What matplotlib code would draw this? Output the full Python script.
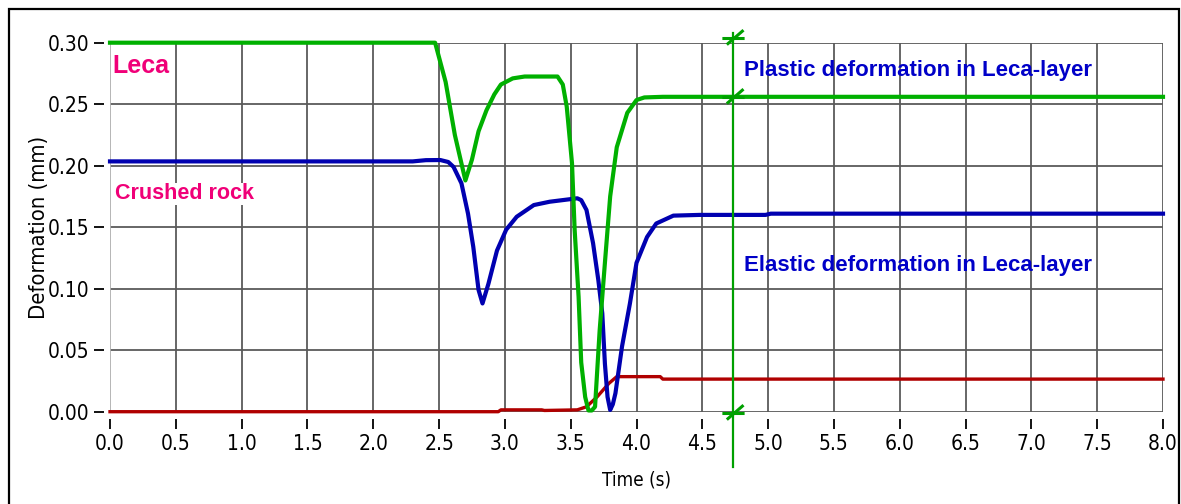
import numpy as np
import matplotlib
matplotlib.use("Agg")
import matplotlib.pyplot as plt
from matplotlib import font_manager
from matplotlib.path import Path
from matplotlib.patches import Rectangle

plt.rcParams['font.family'] = ['Liberation Sans', 'DejaVu Sans']

# green: plastic (Leca) curve
t_green = [0.0, 2.47, 2.55, 2.62, 2.70, 2.75, 2.80, 2.86, 2.92, 2.97, 3.06, 3.15, 3.40, 3.44,
           3.47, 3.51, 3.53, 3.56, 3.58, 3.61, 3.635, 3.66, 3.685, 3.72, 3.76, 3.80, 3.85,
           3.93, 4.00, 4.06, 4.20, 8.0]
v_green = [0.300, 0.300, 0.268, 0.225, 0.188, 0.205, 0.228, 0.245, 0.258, 0.266, 0.271, 0.2725,
           0.2725, 0.266, 0.248, 0.202, 0.148, 0.0935, 0.040, 0.012, 0.001, 0.001, 0.004,
           0.066, 0.121, 0.175, 0.215, 0.243, 0.2534, 0.2555, 0.256, 0.256]

# blue: elastic curve
t_blue = [0.0, 2.30, 2.40, 2.51, 2.57, 2.61, 2.67, 2.72, 2.76, 2.80, 2.83, 2.875, 2.94, 3.01,
          3.09, 3.22, 3.34, 3.55, 3.58, 3.62, 3.67, 3.71, 3.74, 3.76, 3.78, 3.80, 3.82, 3.84,
          3.89, 3.95, 4.00, 4.08, 4.15, 4.28, 4.48, 4.98, 5.02, 8.0]
v_blue = [0.2035, 0.2035, 0.2045, 0.2046, 0.203, 0.199, 0.1857, 0.161, 0.134, 0.099, 0.088,
          0.104, 0.131, 0.148, 0.1585, 0.168, 0.1707, 0.1735, 0.172, 0.164, 0.137, 0.107, 0.080,
          0.039, 0.012, 0.0014, 0.006, 0.015, 0.053, 0.088, 0.121, 0.142, 0.153, 0.1594, 0.160,
          0.160, 0.161, 0.161]

# red: crushed rock curve
t_red = [0.0, 2.95, 2.97, 3.28, 3.30, 3.55, 3.62, 3.70, 3.79, 3.85, 4.18, 4.20, 8.0]
v_red = [0.000, 0.000, 0.0015, 0.0015, 0.0010, 0.0015, 0.004, 0.012, 0.023, 0.0285, 0.0285,
         0.0265, 0.0265]

cursor_t = 4.734
cursor_marks = [0.304, 0.2557, -0.001]

x_ticks = np.arange(0, 8.01, 0.5)
y_ticks = np.arange(0, 0.301, 0.05)

GREEN = '#00b000'
BLUE = '#0000b0'
RED = '#b00000'
PINK = '#f00078'
TXTBLUE = '#0000c8'

tick_font = font_manager.FontProperties(family='DejaVu Sans', stretch='condensed', size=15)
xlab_font = font_manager.FontProperties(family='DejaVu Sans', stretch='condensed', size=13.6)
ylab_font = font_manager.FontProperties(family='DejaVu Sans', stretch='condensed', size=15.8)

fig = plt.figure(figsize=(11.81, 5.04), dpi=100)
ax = fig.add_axes([110 / 1181, 1 - 411.7 / 504, (1163 - 110) / 1181, (411.7 - 42.7) / 504])
ax.set_xlim(0, 8.0)
ax.set_ylim(0, 0.30)

for s in ax.spines.values():
    s.set_color('none')
ax.spines['bottom'].set_position(('outward', 5))
ax.spines['left'].set_position(('outward', 4))

for x in x_ticks[1:]:
    ax.axvline(x, color='#5a5a5a', lw=1.3, zorder=1)
for y in y_ticks:
    ax.axhline(y, color='#5a5a5a', lw=1.3, zorder=1)
ax.axvline(0, color='#b0b0b0', lw=1.3, zorder=1)

ax.plot(t_red, v_red, color=RED, lw=2.4, clip_on=False, zorder=3)
ax.plot(t_blue, v_blue, color=BLUE, lw=3.0, clip_on=False, zorder=4)
ax.plot(t_green, v_green, color=GREEN, lw=3.0, clip_on=False, zorder=5)

# cursor line with markers
ax.plot([cursor_t, cursor_t], [0.308, -0.045], color='#00a000', lw=1.6, clip_on=False, zorder=6)
mark = Path([(-1, 0), (1, 0), (-0.6, -0.55), (0.9, 0.75)],
            [Path.MOVETO, Path.LINETO, Path.MOVETO, Path.LINETO])
ax.plot([cursor_t] * len(cursor_marks), cursor_marks, linestyle='none', marker=mark,
        markersize=16, markeredgewidth=2.2, color='#00a000', clip_on=False, zorder=7)

ax.text(0.02, 0.281, 'Leca', color=PINK, fontsize=18, fontweight='bold', va='center', ha='left', zorder=8)
ax.text(0.04, 0.177, 'Crushed rock', color=PINK, fontsize=15.5, fontweight='bold', va='center', ha='left',
        bbox=dict(facecolor='white', edgecolor='none', pad=0.5), zorder=8)
ax.text(4.82, 0.2775, 'Plastic deformation in Leca-layer', color=TXTBLUE, fontsize=16,
        fontweight='bold', va='center', ha='left', zorder=8)
ax.text(4.82, 0.1185, 'Elastic deformation in Leca-layer', color=TXTBLUE, fontsize=16,
        fontweight='bold', va='center', ha='left', zorder=8)

ax.tick_params(axis='both', direction='out', length=7, width=1.3, color='black', pad=4)
ax.set_xticks(x_ticks)
ax.set_yticks(y_ticks)
ax.set_xticklabels(['%.1f' % x for x in x_ticks], fontproperties=tick_font)
ax.set_yticklabels(['%.2f' % y for y in y_ticks], fontproperties=tick_font)
ax.set_xlabel('Time (s)', fontproperties=xlab_font, labelpad=12)
ax.set_ylabel('Deformation (mm)', fontproperties=ylab_font, labelpad=-1)

fig.patches.append(Rectangle((8.5 / 1181, -0.1), (1179 - 8.5) / 1181, 1.1 - 9.5 / 504,
                             transform=fig.transFigure, fill=False, edgecolor='black', lw=1.6))

fig.savefig('out.png', dpi=100)
